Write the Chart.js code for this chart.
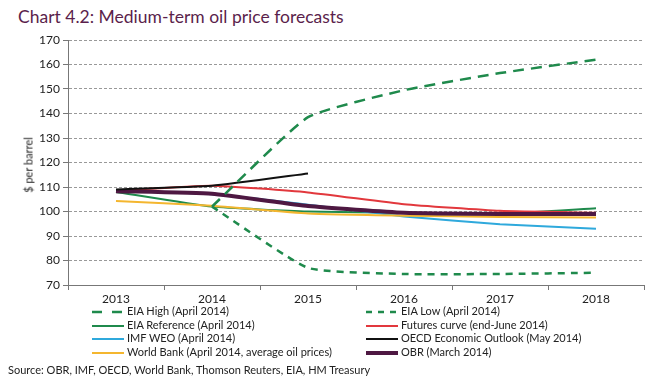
<!DOCTYPE html>
<html>
<head>
<meta charset="utf-8">
<script src="https://cdn.jsdelivr.net/npm/chart.js@4"></script>
<style>
  body { margin: 0; background: #fff; font-family: "Lato", "DejaVu Sans", sans-serif; }
  #wrap { position: relative; width: 666px; height: 389px; overflow: hidden; }
  #title { position: absolute; left: 18px; top: 6px; font-size: 17.5px; color: #5b1f4c; }
  #box { position: absolute; left: 0; top: 0; width: 666px; height: 305px; }
  #ytitle { position: absolute; left: 28px; top: 165px; font-size: 11px; color: #222; white-space: nowrap;
            transform: translate(-50%, -50%) rotate(-90deg); }
  .leg { position: absolute; font-size: 11px; color: #222; white-space: nowrap; line-height: 13px; }
  .leg svg { vertical-align: middle; margin-right: 3px; }
  #source { position: absolute; left: 8px; top: 363px; font-size: 11px; color: #222; }
</style>
</head>
<body>
<div id="wrap">
  <div id="title">Chart 4.2: Medium-term oil price forecasts</div>
  <div id="box"><canvas id="graph"></canvas></div>
  <div id="ytitle">$ per barrel</div>
  <div id="legend"></div>
  <div id="source">Source: OBR, IMF, OECD, World Bank, Thomson Reuters, EIA, HM Treasury</div>
</div>
<script>
const years = ['2013', '2014', '2015', '2016', '2017', '2018'];

const eia_high = [null, 102, 138.5, 149.5, 156.5, 162];
const eia_low = [null, 102, 77, 74.5, 74.5, 75];
const eia_ref = [108, 102, 100, 99.5, 99, 101.3];
const futures = [108.5, 110.5, 107.8, 103, 100.3, 99.5];
const imf_weo = [108.5, 107, 102.8, 98, 94.8, 93];
const oecd = [109, 110.5, 115.5, null, null, null];
const world_bank = [104.3, 102.3, 99.2, 98.3, 97.8, 97.6];
const obr = [108.3, 107.2, 102.2, 99.5, 99, 99];

const series = [
  { label: 'EIA High (April 2014)', data: eia_high, color: '#1f8a4c', width: 2.5, dash: [11, 7], col: 0, row: 0 },
  { label: 'EIA Low (April 2014)', data: eia_low, color: '#1f8a4c', width: 2.5, dash: [7, 6], col: 1, row: 0 },
  { label: 'EIA Reference (April 2014)', data: eia_ref, color: '#1f8a4c', width: 2, dash: [], col: 0, row: 1 },
  { label: 'Futures curve (end-June 2014)', data: futures, color: '#e2383d', width: 2, dash: [], col: 1, row: 1 },
  { label: 'IMF WEO (April 2014)', data: imf_weo, color: '#2fa9dc', width: 2, dash: [], col: 0, row: 2 },
  { label: 'OECD Economic Outlook (May 2014)', data: oecd, color: '#111111', width: 2, dash: [], col: 1, row: 2 },
  { label: 'World Bank (April 2014, average oil prices)', data: world_bank, color: '#f4b62f', width: 2, dash: [], col: 0, row: 3 },
  { label: 'OBR (March 2014)', data: obr, color: '#4e1842', width: 4, dash: [], col: 1, row: 3 },
];

// draw order: OBR on top of the solid lines, dashed ones over everything
const drawOrder = [2, 3, 4, 6, 7, 5, 0, 1];

const legend = document.getElementById('legend');
let html = '';
series.forEach((s) => {
  const left = s.col === 0 ? 92 : 366;
  const top = 304 + s.row * 13.5;
  const dash = s.dash.length ? `stroke-dasharray="${s.label.includes('High') ? '10 10' : '6 6'}"` : '';
  html += `<div class="leg" style="left:${left}px;top:${top}px"><svg width="32" height="6"><line x1="0" y1="3" x2="32" y2="3" stroke="${s.color}" stroke-width="${s.width}" ${dash}/></svg>${s.label}</div>`;
});
legend.innerHTML = html;

new Chart(document.getElementById('graph'), {
  type: 'line',
  data: {
    labels: years,
    datasets: drawOrder.map((i, k) => ({
      label: series[i].label,
      data: series[i].data,
      borderColor: series[i].color,
      backgroundColor: series[i].color,
      borderWidth: series[i].width,
      borderDash: series[i].dash,
      pointRadius: 0,
      tension: 0.15,
      fill: false,
      order: drawOrder.length - k,
    })),
  },
  options: {
    responsive: true,
    maintainAspectRatio: false,
    animation: false,
    layout: { padding: { left: 0, right: 22, top: 40, bottom: 0 } },
    plugins: { legend: { display: false }, tooltip: { enabled: false } },
    scales: {
      x: {
        offset: true,
        afterFit: (scale) => { scale.height = 20; },
        grid: { offset: true, drawOnChartArea: false, tickLength: 5, color: '#777' },
        border: { color: '#777', width: 1 },
        ticks: { color: '#222', font: { family: 'Lato', size: 12 }, padding: 2 },
      },
      y: {
        min: 70,
        max: 170,
        afterFit: (scale) => { scale.width = 68; },
        ticks: { stepSize: 10, color: '#222', font: { family: 'Lato', size: 12 }, padding: 3 },
        grid: { color: '#999', tickLength: 5, tickColor: '#777' },
        border: { color: '#777', width: 1, dash: [3, 2] },
      },
    },
  },
});
</script>
</body>
</html>
